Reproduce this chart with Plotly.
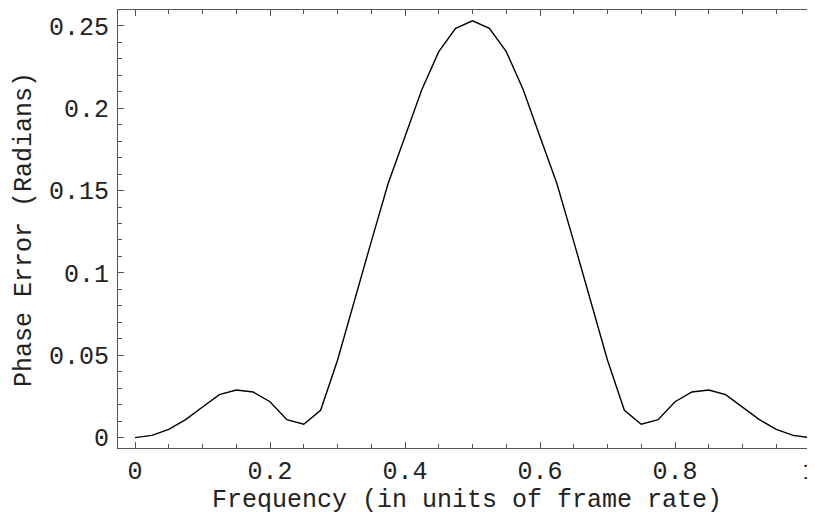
import plotly.graph_objects as go

# Frequency (in units of frame rate), step 0.025
freq = [round(i * 0.025, 3) for i in range(41)]
phase_error = [
    0.0, 0.0014, 0.0050, 0.0109, 0.0186, 0.0261, 0.0289, 0.0277, 0.0218, 0.0109,
    0.0081, 0.0166, 0.0470, 0.0834, 0.1190, 0.1543, 0.1826, 0.2114, 0.2343, 0.2485,
    0.2530,
    0.2485, 0.2343, 0.2114, 0.1826, 0.1543, 0.1190, 0.0834, 0.0470, 0.0166, 0.0081,
    0.0109, 0.0218, 0.0277, 0.0289, 0.0261, 0.0186, 0.0109, 0.0050, 0.0014, 0.0,
]

x_tickvals = [0, 0.2, 0.4, 0.6, 0.8, 1]
x_ticktext = ["0", "0.2", "0.4", "0.6", "0.8", "1"]
y_tickvals = [0, 0.05, 0.1, 0.15, 0.2, 0.25]
y_ticktext = ["0", "0.05", "0.1", "0.15", "0.2", "0.25"]
x_title = "Frequency (in units of frame rate)"
y_title = "Phase Error (Radians)"

FONT = "Liberation Mono, Courier New, monospace"
AXC = "#555555"
TXT = "#222222"

fig = go.Figure()
fig.add_trace(go.Scatter(x=freq, y=phase_error, mode="lines",
                         line=dict(color="black", width=1.4), showlegend=False,
                         hoverinfo="skip"))

# the page body adds an 8px offset, so the figure is 8px smaller than the window
fig.update_layout(
    width=807, height=504,
    margin=dict(l=110, r=0, t=2, b=64, autoexpand=False),
    paper_bgcolor="white", plot_bgcolor="white",
    font=dict(family=FONT, size=25, color=TXT),
    xaxis=dict(
        range=[-0.0252, 1.0074], showgrid=False, zeroline=False, automargin=False,
        showline=True, linecolor=AXC, linewidth=1, mirror="ticks",
        ticks="inside", ticklen=6, tickcolor=AXC, tickwidth=1,
        tickvals=x_tickvals, ticktext=x_ticktext, ticklabeloverflow="allow",
        minor=dict(dtick=0.05, tick0=0, ticks="inside", ticklen=4, tickcolor=AXC, showgrid=False),
        tickfont=dict(family=FONT, size=25, color=TXT),
    ),
    yaxis=dict(
        range=[-0.0063, 0.2596], showgrid=False, zeroline=False, automargin=False,
        showline=True, linecolor=AXC, linewidth=1, mirror=False,
        ticks="inside", ticklen=6, tickcolor=AXC, tickwidth=1,
        tickvals=y_tickvals, ticktext=y_ticktext, ticklabeloverflow="allow",
        minor=dict(dtick=0.01, tick0=0, ticks="inside", ticklen=4, tickcolor=AXC, showgrid=False),
        tickfont=dict(family=FONT, size=25, color=TXT),
        ticklabelstandoff=3,
    ),
    annotations=[
        dict(text=x_title, xref="paper", yref="paper", x=0.5, y=-0.12,
             xanchor="center", yanchor="middle", showarrow=False,
             font=dict(family=FONT, size=25, color=TXT)),
        dict(text=y_title, xref="paper", yref="paper", x=-0.1349, y=0.5,
             xanchor="center", yanchor="middle", showarrow=False, textangle=-90,
             font=dict(family=FONT, size=25, color=TXT)),
    ],
)

fig.write_html("out.html")
